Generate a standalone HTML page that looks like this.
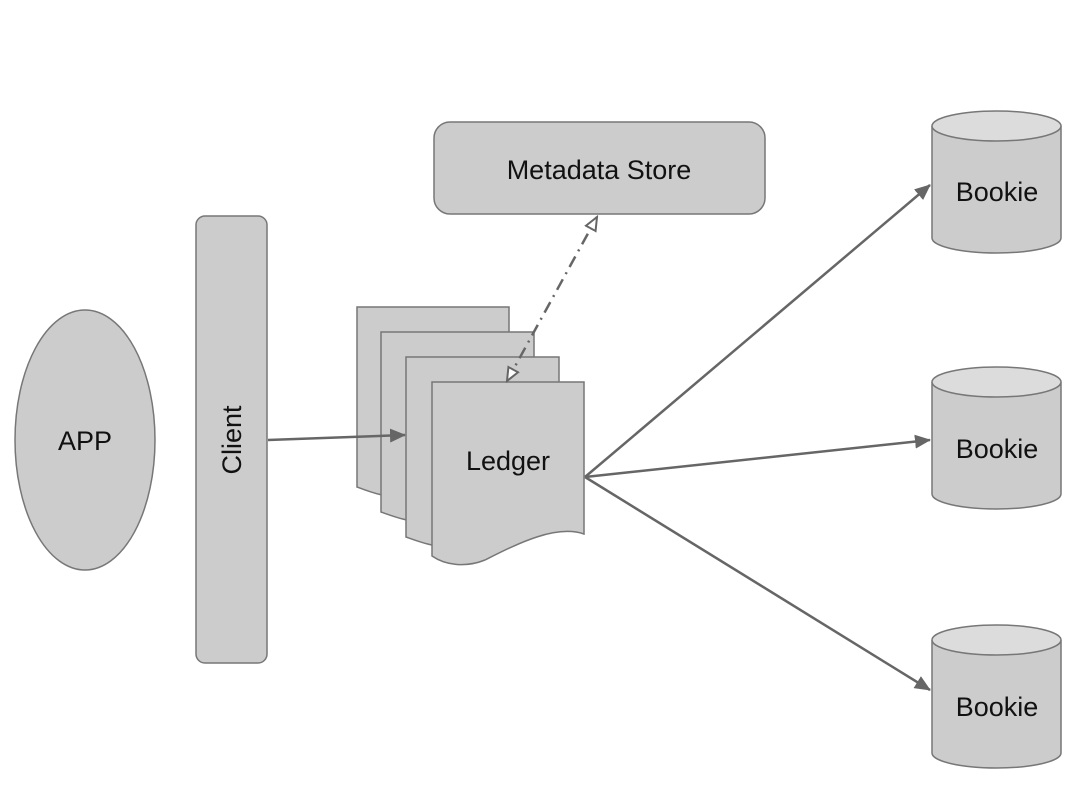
<!DOCTYPE html>
<html><head><style>body{margin:0;background:#fff}</style></head><body>
<svg width="1080" height="796" xmlns="http://www.w3.org/2000/svg" font-family="Liberation Sans, Arial, sans-serif">
<defs>
<marker id="a" markerWidth="16" markerHeight="14" refX="15" refY="7" orient="auto" markerUnits="userSpaceOnUse" viewBox="0 0 16 14"><path d="M0,0 L16,7 L0,14 z" fill="#666"/></marker>
<marker id="o" markerWidth="16" markerHeight="14" refX="14" refY="7" orient="auto-start-reverse" markerUnits="userSpaceOnUse" viewBox="0 0 16 14"><path d="M1,1.5 L14,7 L1,12.5 z" fill="#fff" stroke="#666" stroke-width="2"/></marker>
</defs>
<g fill="#cccccc" stroke="#777" stroke-width="1.5">
<ellipse cx="85" cy="440" rx="70" ry="130"/>
<rect x="196" y="216" width="71" height="447" rx="9"/>
<rect x="434" y="122" width="331" height="92" rx="16"/>
<path d="M357,307 H509 V470 C480,460 440,480 410,495 C390,500 370,492 357,487 Z"/>
<path d="M381,332 H534 V495 C505,485 465,505 435,520 C415,525 395,517 381,512 Z"/>
<path d="M406,357 H559 V520 C530,510 490,530 460,545 C440,550 420,542 406,537 Z"/>
<path d="M432,382 H584 V534 C555,524 515,545 485,560 C465,568 445,565 432,556 Z"/>
</g>
<g fill="#cccccc" stroke="#777" stroke-width="1.5">
<path d="M932,126 V238 A64.5,15 0 0 0 1061,238 V126"/><ellipse cx="996.5" cy="126" rx="64.5" ry="15" fill="#dcdcdc"/>
<path d="M932,382 V494 A64.5,15 0 0 0 1061,494 V382"/><ellipse cx="996.5" cy="382" rx="64.5" ry="15" fill="#dcdcdc"/>
<path d="M932,640 V753 A64.5,15 0 0 0 1061,753 V640"/><ellipse cx="996.5" cy="640" rx="64.5" ry="15" fill="#dcdcdc"/>
</g>
<g stroke="#666" stroke-width="2.5" fill="none">
<line x1="268" y1="440" x2="405" y2="435" marker-end="url(#a)"/>
<line x1="585" y1="477" x2="930" y2="185" marker-end="url(#a)"/>
<line x1="585" y1="477" x2="930" y2="440" marker-end="url(#a)"/>
<line x1="585" y1="477" x2="930" y2="690" marker-end="url(#a)"/>
<line x1="507" y1="381" x2="597" y2="217" stroke-width="2.5" stroke-dasharray="12,6,2,6" marker-start="url(#o)" marker-end="url(#o)"/>
</g>
<g font-size="27" fill="#111" text-anchor="middle">
<text x="85" y="450">APP</text>
<text x="599" y="179">Metadata Store</text>
<text x="508" y="470">Ledger</text>
<text x="997" y="201">Bookie</text>
<text x="997" y="458">Bookie</text>
<text x="997" y="716">Bookie</text>
<text transform="translate(241,440) rotate(-90)">Client</text>
</g>
</svg>
</body></html>
